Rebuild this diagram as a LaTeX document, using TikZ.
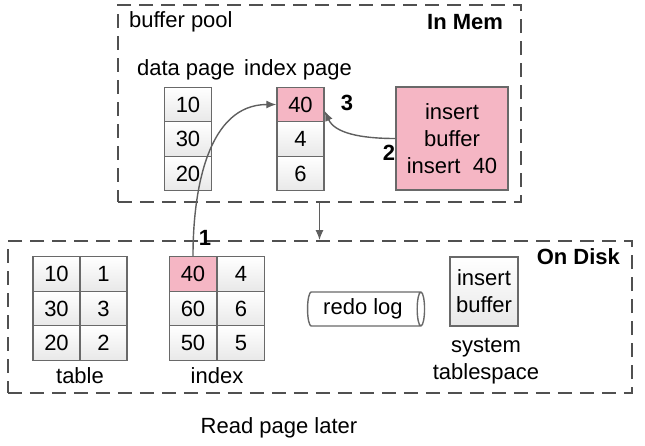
\documentclass[tikz,border=0pt]{standalone}
\usepackage{fontspec}
\setmainfont{Liberation Sans}
\usetikzlibrary{shapes.geometric, arrows.meta, positioning}

\definecolor{cellline}{RGB}{105,105,105}
\definecolor{bufpink}{RGB}{245,182,196}
\definecolor{arrowgray}{RGB}{95,95,95}
\definecolor{dashgray}{RGB}{80,80,80}

\begin{document}
\begin{tikzpicture}[
    x=0.5pt, y=-0.5pt,
    font=\fontsize{11}{13.5}\selectfont,
    cell/.style={rectangle, draw=cellline, line width=0.7pt, top color=white, bottom color=gray!18, minimum width=23.5pt, minimum height=17.25pt, inner sep=0pt},
    hot/.style={cell, top color=bufpink, bottom color=bufpink},
    zone/.style={rectangle, draw=dashgray, line width=0.9pt, dash pattern=on 7pt off 4pt},
    flow/.style={draw=arrowgray, line width=0.7pt, -{Latex[length=5pt,width=4pt]}},
    tag/.style={font=\fontsize{11}{13.5}\selectfont\bfseries}
]
    \useasboundingbox (0,0) rectangle (645,446);

    % memory and disk areas
    \node[zone, minimum width=201.5pt, minimum height=98.5pt] (mem) at (319.5,103.5) {};
    \node[zone, minimum width=312pt, minimum height=76pt] (disk) at (320,317) {};

    \node[anchor=west] (pooltxt) at (122,22) {buffer pool};
    \node[tag, anchor=east] (memtxt) at (510,22) {In Mem};
    \node[tag, anchor=east] (disktxt) at (627,257) {On Disk};

    % buffer pool pages
    \node (datatxt) at (186,70) {data page};
    \node (idxtxt) at (298,70) {index page};

    \node[cell] (d1) at (188,104.5) {10};
    \node[cell] (d2) at (188,139) {30};
    \node[cell] (d3) at (188,173.5) {20};

    \node[hot] (p1) at (300.5,104.5) {40};
    \node[cell] (p2) at (300.5,139) {4};
    \node[cell] (p3) at (300.5,173.5) {6};

    \node[rectangle, draw=cellline, line width=0.7pt, fill=bufpink, minimum width=56pt, minimum height=51.5pt, align=center] (ibuf) at (452,138.5) {insert\\buffer\\insert~~40};

    % on disk
    \node[cell] (t11) at (56.5,274) {10};
    \node[cell] (t12) at (103.5,274) {1};
    \node[cell] (t21) at (56.5,308.5) {30};
    \node[cell] (t22) at (103.5,308.5) {3};
    \node[cell] (t31) at (56.5,343) {20};
    \node[cell] (t32) at (103.5,343) {2};
    \node (tabletxt) at (80,376) {table};

    \node[hot] (i11) at (193,274) {40};
    \node[cell] (i12) at (241,274) {4};
    \node[cell] (i21) at (193,308.5) {60};
    \node[cell] (i22) at (241,308.5) {6};
    \node[cell] (i31) at (193,343) {50};
    \node[cell] (i32) at (241,343) {5};
    \node (indextxt) at (217,376) {index};

    \node[cylinder, draw=cellline, line width=0.7pt, fill=white, minimum width=17pt, minimum height=58.5pt, aspect=0.3, inner sep=1pt] (redo) at (363,309) {redo log};

    \node[cell, minimum width=34pt, minimum height=34.5pt, align=center] (sysbuf) at (484,291.5) {insert\\buffer};
    \node[align=center] (systxt) at (486,361.5) {system\\tablespace};

    \node (latertxt) at (279,428) {Read page later};

    % steps
    \draw[flow] (i11.north) .. controls +(0,-68) and +(-68,0) .. (p1.west);
    \draw[flow] (ibuf.west) .. controls +(-35,0) and +(10,22) .. (p1.-15);
    \draw[flow] (mem.south) -- (mem.south |- disk.north);

    \node[tag] (n1) at (205,238) {1};
    \node[tag] (n2) at (389,153) {2};
    \node[tag] (n3) at (347,103) {3};
\end{tikzpicture}
\end{document}
